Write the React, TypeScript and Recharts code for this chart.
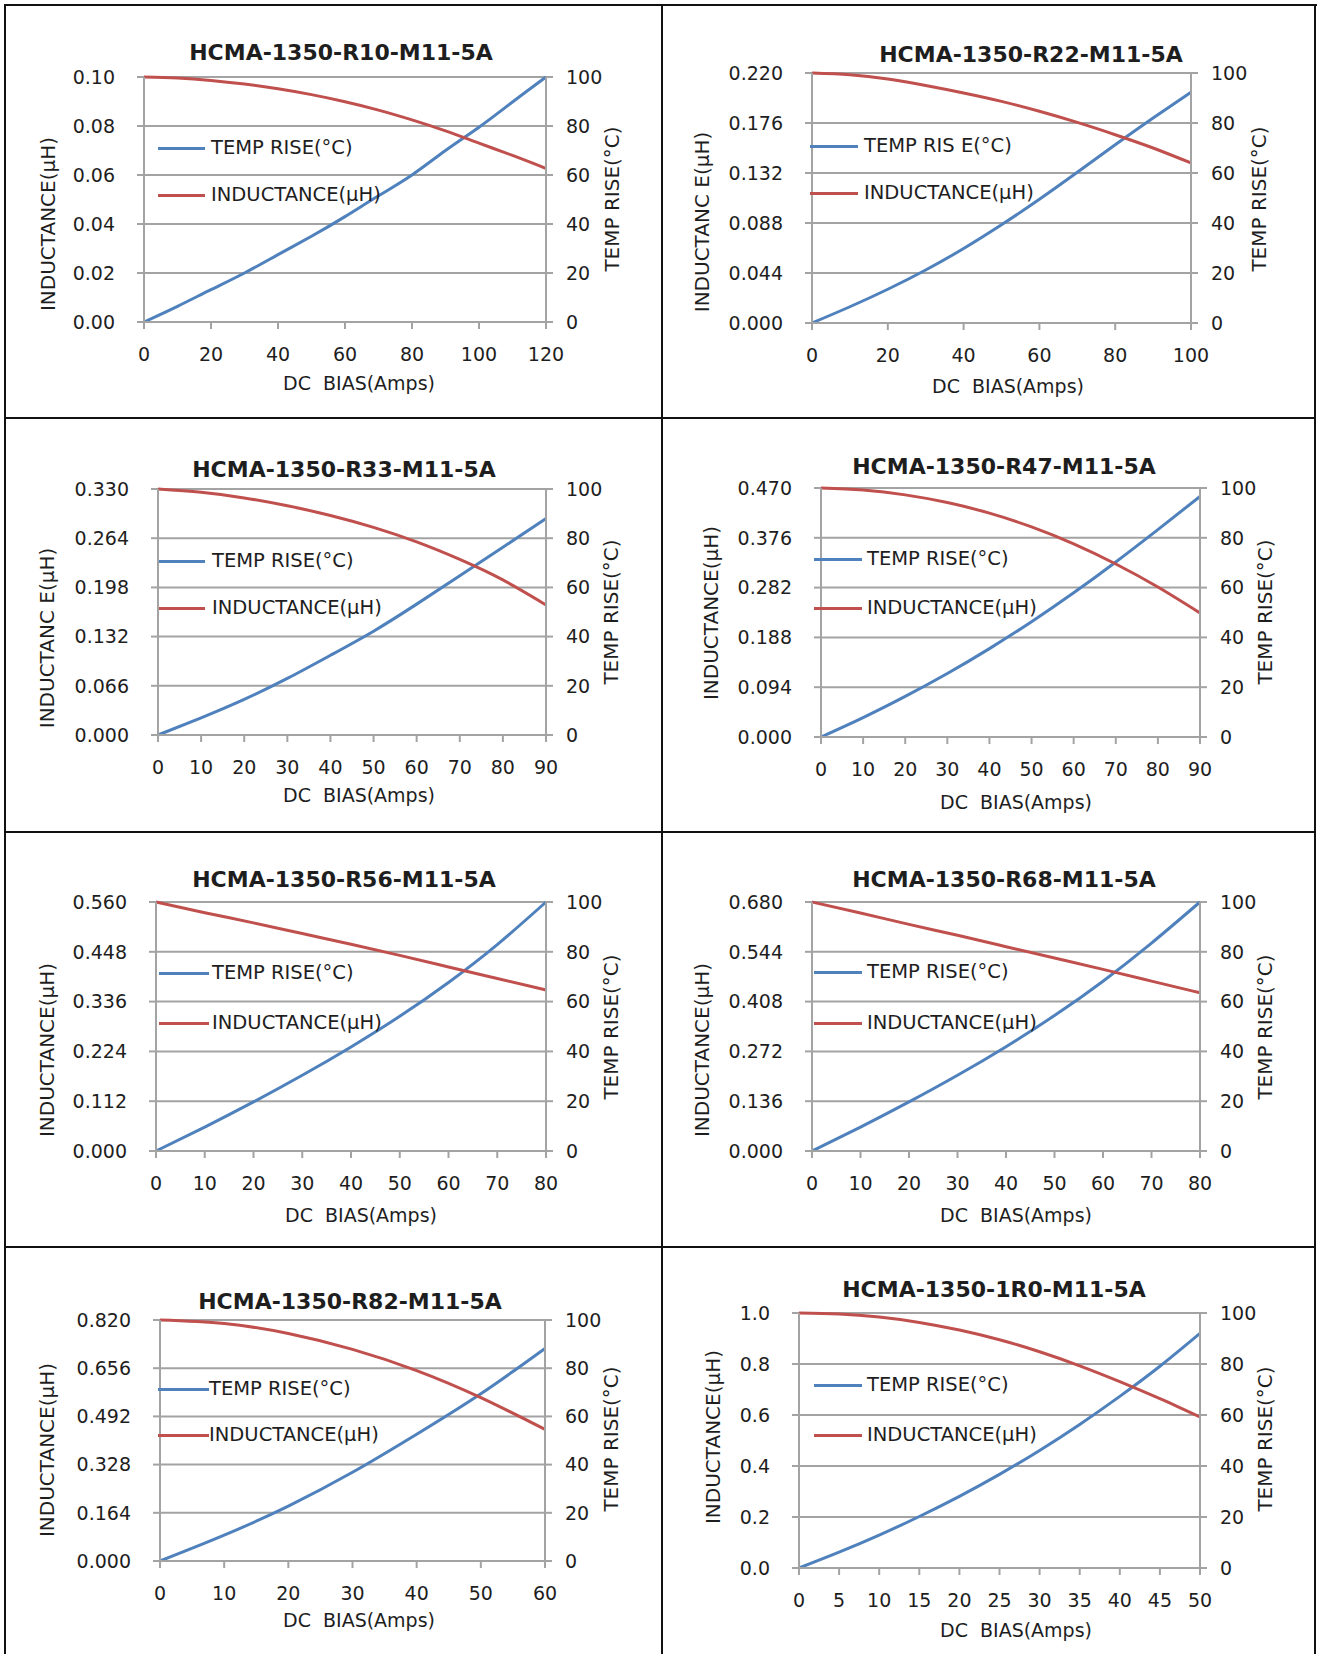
import { CartesianGrid, Legend, Line, LineChart, XAxis, YAxis } from "recharts";

const FONT = '"DejaVu Sans", "Liberation Sans", sans-serif';
const BLUE = "#4f81bd";
const RED = "#c0504d";
const GRID = "#a3a3a3";
const INK = "#1e1e1e";

// DC bias (A), temp rise (°C), inductance (µH)
const r10Bias = [0, 10, 20, 30, 40, 50, 60, 70, 80, 90, 100, 110, 120];
const r10Temp = [0, 6.4, 13.2, 20, 27.5, 35, 43, 51.5, 60, 70, 79.5, 89.8, 100];
const r10Ind = [0.1, 0.0996, 0.0986, 0.0971, 0.0952, 0.0928, 0.0899, 0.0865, 0.0825, 0.078, 0.073, 0.068, 0.0627];
const r10IndTicks = [0, 0.02, 0.04, 0.06, 0.08, 0.1];
const r10BiasTicks = [0, 20, 40, 60, 80, 100, 120];

const r22Bias = [0, 10, 20, 30, 40, 50, 60, 70, 80, 90, 100];
const r22Temp = [0, 6.5, 13.5, 21.2, 29.8, 39.3, 49.5, 60.3, 71.3, 82, 92.3];
const r22Ind = [0.22, 0.2185, 0.2147, 0.209, 0.2024, 0.195, 0.1863, 0.1765, 0.1657, 0.154, 0.1408];
const r22IndTicks = [0, 0.044, 0.088, 0.132, 0.176, 0.22];
const r22BiasTicks = [0, 20, 40, 60, 80, 100];

const r33Bias = [0, 10, 20, 30, 40, 50, 60, 70, 80, 90];
const r33Temp = [0, 7, 14.5, 23, 32.4, 42.2, 53.2, 64.7, 76.3, 88];
const r33Ind = [0.33, 0.3255, 0.318, 0.3075, 0.2945, 0.2785, 0.259, 0.2355, 0.208, 0.1745];
const r33IndTicks = [0, 0.066, 0.132, 0.198, 0.264, 0.33];
const r33BiasTicks = [0, 10, 20, 30, 40, 50, 60, 70, 80, 90];

const r47Bias = [0, 10, 20, 30, 40, 50, 60, 70, 80, 90];
const r47Temp = [0, 7.8, 16.3, 25.5, 35.5, 46.3, 57.9, 70.3, 83.3, 96.6];
const r47Ind = [0.47, 0.466, 0.457, 0.4425, 0.4225, 0.3965, 0.3645, 0.3265, 0.283, 0.234];
const r47IndTicks = [0, 0.094, 0.188, 0.282, 0.376, 0.47];
const r47BiasTicks = [0, 10, 20, 30, 40, 50, 60, 70, 80, 90];

const r56Bias = [0, 10, 20, 30, 40, 50, 60, 70, 80];
const r56Temp = [0, 9.6, 19.7, 30.4, 41.8, 54.1, 67.7, 82.9, 100];
const r56Ind = [0.56, 0.536, 0.513, 0.489, 0.465, 0.44, 0.414, 0.388, 0.362];
const r56IndTicks = [0, 0.112, 0.224, 0.336, 0.448, 0.56];
const r56BiasTicks = [0, 10, 20, 30, 40, 50, 60, 70, 80];

const r68Bias = [0, 10, 20, 30, 40, 50, 60, 70, 80];
const r68Temp = [0, 9.6, 19.7, 30.4, 41.9, 54.4, 68.2, 83.5, 100];
const r68Ind = [0.68, 0.65, 0.619, 0.589, 0.558, 0.527, 0.496, 0.464, 0.432];
const r68IndTicks = [0, 0.136, 0.272, 0.408, 0.544, 0.68];
const r68BiasTicks = [0, 10, 20, 30, 40, 50, 60, 70, 80];

const r82Bias = [0, 10, 20, 30, 40, 50, 60];
const r82Temp = [0, 10.7, 22.8, 36.8, 52.6, 69.4, 88.2];
const r82Ind = [0.82, 0.808, 0.774, 0.72, 0.648, 0.556, 0.448];
const r82IndTicks = [0, 0.164, 0.328, 0.492, 0.656, 0.82];
const r82BiasTicks = [0, 10, 20, 30, 40, 50, 60];

const r1r0Bias = [0, 5, 10, 15, 20, 25, 30, 35, 40, 45, 50];
const r1r0Temp = [0, 6.2, 12.9, 20.2, 28.1, 36.7, 46.1, 56.3, 67.3, 79.1, 92];
const r1r0Ind = [1.0, 0.996, 0.984, 0.963, 0.933, 0.895, 0.848, 0.793, 0.731, 0.664, 0.592];
const r1r0IndTicks = [0, 0.2, 0.4, 0.6, 0.8, 1.0];
const r1r0BiasTicks = [0, 5, 10, 15, 20, 25, 30, 35, 40, 45, 50];

const tempTicks = [0, 20, 40, 60, 80, 100];

const panels = [
  { title: "HCMA-1350-R10-M11-5A", bias: r10Bias, temp: r10Temp, ind: r10Ind, indTicks: r10IndTicks, biasTicks: r10BiasTicks, digits: 2, yLabel: "INDUCTANCE(µH)", tempName: "TEMP RISE(°C)" },
  { title: "HCMA-1350-R22-M11-5A", bias: r22Bias, temp: r22Temp, ind: r22Ind, indTicks: r22IndTicks, biasTicks: r22BiasTicks, digits: 3, yLabel: "INDUCTANC E(µH)", tempName: "TEMP RIS E(°C)" },
  { title: "HCMA-1350-R33-M11-5A", bias: r33Bias, temp: r33Temp, ind: r33Ind, indTicks: r33IndTicks, biasTicks: r33BiasTicks, digits: 3, yLabel: "INDUCTANC E(µH)", tempName: "TEMP RISE(°C)" },
  { title: "HCMA-1350-R47-M11-5A", bias: r47Bias, temp: r47Temp, ind: r47Ind, indTicks: r47IndTicks, biasTicks: r47BiasTicks, digits: 3, yLabel: "INDUCTANCE(µH)", tempName: "TEMP RISE(°C)" },
  { title: "HCMA-1350-R56-M11-5A", bias: r56Bias, temp: r56Temp, ind: r56Ind, indTicks: r56IndTicks, biasTicks: r56BiasTicks, digits: 3, yLabel: "INDUCTANCE(µH)", tempName: "TEMP RISE(°C)" },
  { title: "HCMA-1350-R68-M11-5A", bias: r68Bias, temp: r68Temp, ind: r68Ind, indTicks: r68IndTicks, biasTicks: r68BiasTicks, digits: 3, yLabel: "INDUCTANCE(µH)", tempName: "TEMP RISE(°C)" },
  { title: "HCMA-1350-R82-M11-5A", bias: r82Bias, temp: r82Temp, ind: r82Ind, indTicks: r82IndTicks, biasTicks: r82BiasTicks, digits: 3, yLabel: "INDUCTANCE(µH)", tempName: "TEMP RISE(°C)" },
  { title: "HCMA-1350-1R0-M11-5A", bias: r1r0Bias, temp: r1r0Temp, ind: r1r0Ind, indTicks: r1r0IndTicks, biasTicks: r1r0BiasTicks, digits: 1, yLabel: "INDUCTANCE(µH)", tempName: "TEMP RISE(°C)" },
];

// cell [x, y, w, h], plot [left, right, top, bottom], text centres, legend [lineDx, lineLen, textDx, row1Dy, row2Dy]
const layouts = [
  { cell: [7, 7, 654, 409], plot: [144, 546, 77, 322], title: [341, 53], yl: [48, 224], yr: [612, 199], xl: [359, 383], leg: [14, 47, 67, 71, 118] },
  { cell: [664, 7, 650, 409], plot: [812, 1191, 73, 323], title: [1031, 55], yl: [702, 222], yr: [1259, 199], xl: [1008, 386], leg: [-2, 48, 52, 73, 120] },
  { cell: [7, 420, 654, 410], plot: [158, 546, 489, 735], title: [344, 470], yl: [47, 638], yr: [611, 612], xl: [359, 795], leg: [1, 46, 54, 72, 119] },
  { cell: [664, 420, 650, 410], plot: [821, 1200, 488, 737], title: [1004, 467], yl: [711, 613], yr: [1265, 612], xl: [1016, 802], leg: [-7, 48, 46, 71, 120] },
  { cell: [7, 833, 654, 412], plot: [156, 546, 902, 1151], title: [344, 880], yl: [47, 1050], yr: [611, 1027], xl: [361, 1215], leg: [3, 50, 56, 71, 121] },
  { cell: [664, 833, 650, 412], plot: [812, 1200, 902, 1151], title: [1004, 880], yl: [702, 1050], yr: [1265, 1027], xl: [1016, 1215], leg: [2, 48, 55, 70, 121] },
  { cell: [7, 1248, 654, 406], plot: [160, 545, 1320, 1561], title: [350, 1302], yl: [47, 1450], yr: [611, 1439], xl: [359, 1620], leg: [-2, 51, 49, 69, 115] },
  { cell: [664, 1248, 650, 406], plot: [799, 1200, 1313, 1568], title: [994, 1290], yl: [713, 1437], yr: [1265, 1439], xl: [1016, 1630], leg: [15, 48, 68, 72, 122] },
];

const tickStyle = { fill: INK, fontSize: 19, fontFamily: FONT };
const gridLine = { stroke: GRID, strokeWidth: 2 };

const centred = (x: number, y: number, rotate = false) => ({
  position: "absolute" as const,
  left: x,
  top: y,
  transform: rotate ? "translate(-50%, -50%) rotate(-90deg)" : "translate(-50%, -50%)",
  whiteSpace: "pre" as const,
  fontFamily: FONT,
  color: INK,
  lineHeight: 1,
});

const Panel = ({ p, lay }: { p: (typeof panels)[number]; lay: (typeof layouts)[number] }) => {
  const [cx, cy, cw, ch] = lay.cell;
  const [L, R, T, B] = lay.plot;
  const [lineDx, lineLen, textDx, row1, row2] = lay.leg;
  const rows = p.bias.map((b, i) => ({ bias: b, temp: p.temp[i], ind: p.ind[i] }));

  const renderLegend = (props: any) => {
    const items = props.payload || [];
    const temp = items.find((it: any) => it.dataKey === "temp");
    const ind = items.find((it: any) => it.dataKey === "ind");
    return (
      <div style={{ position: "relative", fontFamily: FONT, fontSize: 19.5, color: INK }}>
        {[temp, ind].filter(Boolean).map((it: any, i: number) => (
          <div key={it.dataKey} style={{ position: "absolute", left: 0, top: (i === 0 ? row1 : row2) - 12, height: 24, width: 320 }}>
            <div style={{ position: "absolute", left: 0, top: 10.5, width: lineLen, height: 3, background: it.color }} />
            <div style={{ position: "absolute", left: textDx - lineDx, top: 2, whiteSpace: "nowrap", lineHeight: 1 }}>{it.value}</div>
          </div>
        ))}
      </div>
    );
  };

  return (
    <>
      <div style={{ position: "absolute", left: cx, top: cy }}>
        <LineChart width={cw} height={ch} data={rows} margin={{ top: T - cy, right: 0, bottom: 0, left: 0 }}>
          <CartesianGrid yAxisId="left" vertical={false} stroke={GRID} strokeWidth={2} />
          <XAxis
            dataKey="bias"
            type="number"
            domain={[0, p.biasTicks[p.biasTicks.length - 1]]}
            ticks={p.biasTicks}
            interval={0}
            height={cy + ch - B}
            tickSize={7}
            tickMargin={19}
            tick={tickStyle}
            tickLine={gridLine}
            axisLine={gridLine}
          />
          <YAxis
            yAxisId="left"
            domain={[0, p.indTicks[p.indTicks.length - 1]]}
            ticks={p.indTicks}
            interval={0}
            width={L - cx}
            tickSize={7}
            tickMargin={22}
            tick={tickStyle}
            tickLine={gridLine}
            axisLine={gridLine}
            tickFormatter={(v: number) => v.toFixed(p.digits)}
          />
          <YAxis
            yAxisId="right"
            orientation="right"
            domain={[0, 100]}
            ticks={tempTicks}
            interval={0}
            width={cx + cw - R}
            tickSize={7}
            tickMargin={13}
            tick={{ ...tickStyle, textAnchor: "start" }}
            tickLine={gridLine}
            axisLine={gridLine}
          />
          <Line yAxisId="right" type="natural" dataKey="temp" name={p.tempName} stroke={BLUE} strokeWidth={3} dot={false} isAnimationActive={false} />
          <Line yAxisId="left" type="natural" dataKey="ind" name="INDUCTANCE(µH)" stroke={RED} strokeWidth={3} dot={false} isAnimationActive={false} />
          <Legend
            layout="vertical"
            align="center"
            verticalAlign="middle"
            content={renderLegend}
            wrapperStyle={{ position: "absolute", left: L - cx + lineDx, top: T - cy, width: 340, height: 150 }}
          />
        </LineChart>
      </div>
      <div style={{ ...centred(lay.title[0], lay.title[1]), fontSize: 22, fontWeight: "bold" }}>{p.title}</div>
      <div style={{ ...centred(lay.yl[0], lay.yl[1], true), fontSize: 20 }}>{p.yLabel}</div>
      <div style={{ ...centred(lay.yr[0], lay.yr[1], true), fontSize: 20 }}>TEMP RISE(°C)</div>
      <div style={{ ...centred(lay.xl[0], lay.xl[1]), fontSize: 19 }}>{"DC  BIAS(Amps)"}</div>
    </>
  );
};

const rule = (left: number, top: number, width: number, height: number) => (
  <div style={{ position: "absolute", left, top, width, height, background: "#111" }} />
);

export default function App() {
  return (
    <div style={{ position: "absolute", left: 0, top: 0, width: 1321, height: 1654, background: "#fff", overflow: "hidden" }}>
      {rule(4, 4, 1313, 2)}
      {rule(4, 4, 2, 1650)}
      {rule(1314, 4, 2, 1650)}
      {rule(661, 4, 2, 1650)}
      {rule(4, 417, 1312, 2)}
      {rule(4, 831, 1312, 2)}
      {rule(4, 1246, 1312, 2)}
      {panels.map((p, i) => (
        <Panel key={p.title} p={p} lay={layouts[i]} />
      ))}
    </div>
  );
}
